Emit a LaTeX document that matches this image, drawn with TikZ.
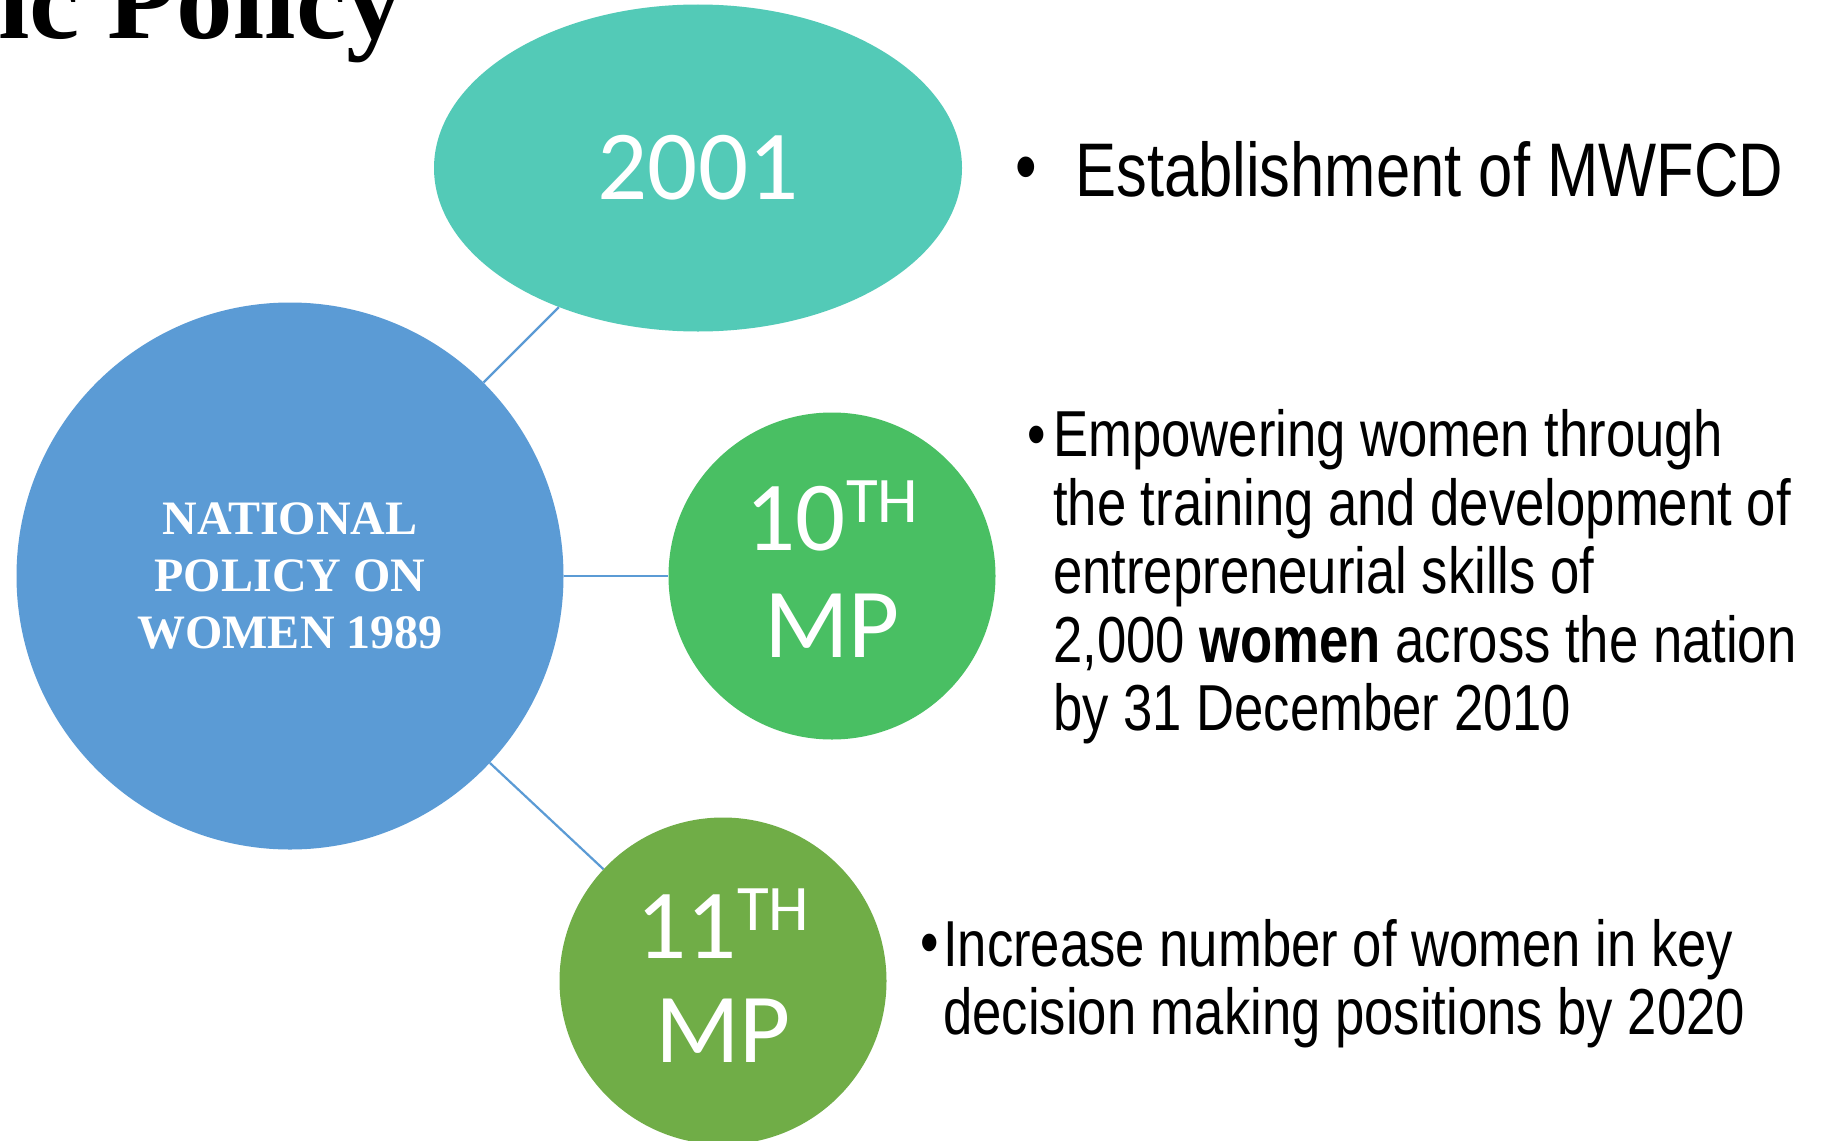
\documentclass[tikz,border=0pt]{standalone}
\usepackage{fontspec}
\setmainfont{Liberation Serif}
\newfontfamily\bodyfont{Liberation Sans}[FakeStretch=0.81]
\newfontfamily\circfont{Carlito}
\usetikzlibrary{shapes.geometric}
\definecolor{tealc}{HTML}{53CAB7}
\definecolor{bluec}{HTML}{5B9BD5}
\definecolor{greenc}{HTML}{49BF63}
\definecolor{olivec}{HTML}{70AD47}
\newcommand{\mysup}[1]{\raisebox{0.28em}{\fontsize{65}{65}\selectfont #1}}
\begin{document}
\begin{tikzpicture}[x=1pt,y=-1pt,
  disc/.style={circle, inner sep=0pt, draw=none},
  conn/.style={draw=bluec, line width=2.2pt},
  circtext/.style={text=white, font=\circfont\fontsize{99}{104}\selectfont, inner sep=0pt, anchor=base},
  bullettext/.style={font=\bodyfont\fontsize{65}{68}\selectfont, inner sep=0pt, anchor=base west},
  bigbullet/.style={font=\bodyfont\fontsize{76}{80}\selectfont, inner sep=0pt, anchor=base west},
  dot/.style={inner sep=0pt, font=\bodyfont\fontsize{65}{65}\selectfont},
  bigdot/.style={inner sep=0pt, font=\bodyfont\fontsize{76}{76}\selectfont}
]
\fill[white] (0,0) rectangle (1822,1140);
\useasboundingbox (0,0) rectangle (1822,1140);

% title fragment
\node[anchor=base east, inner sep=0pt, font=\bfseries\fontsize{113}{113}\selectfont] (title) at (403,38) {ic Policy};

% circles
\node[disc, fill=bluec, minimum size=547pt, text=white, align=center,
      font=\bfseries\fontsize{48}{57}\selectfont] (nat) at (290,576) {NATIONAL\\POLICY ON\\WOMEN 1989};
\node[ellipse, fill=tealc, minimum width=528pt, minimum height=327pt, inner sep=0pt] (y2001) at (698,168) {};
\node[circtext] (t2001) at (698,199) {2001};
\node[disc, fill=greenc, minimum size=327pt] (mp10) at (832,576) {};
\node[circtext] (mp10a) at (832,550) {10\mysup{TH}};
\node[circtext] (mp10b) at (832,657) {MP};
\node[disc, fill=olivec, minimum size=327pt] (mp11) at (723,981) {};
\node[circtext] (mp11a) at (723,958) {11\mysup{TH}};
\node[circtext] (mp11b) at (723,1062) {MP};

% connectors
\draw[conn] (nat) -- (y2001);
\draw[conn] (nat) -- (mp10);
\draw[conn] (nat) -- (mp11);

% bullet texts
\node[bigdot] (d1) at (1026,175) {•};
\node[bigbullet] (b1) at (1075,196) {Establishment of MWFCD};

\node[dot] (d2) at (1037,441) {•};
\node[bullettext] (b2a) at (1053,456) {Empowering women through};
\node[bullettext] (b2b) at (1053,525) {the training and development of};
\node[bullettext] (b2c) at (1053,593) {entrepreneurial skills of};
\node[bullettext] (b2d) at (1053,662) {2,000 \textbf{women} across the nation};
\node[bullettext] (b2e) at (1053,730) {by 31 December 2010};

\node[dot] (d3) at (930,949) {•};
\node[bullettext] (b3a) at (943,966) {Increase number of women in key};
\node[bullettext] (b3b) at (943,1034) {decision making positions by 2020};
\end{tikzpicture}
\end{document}
